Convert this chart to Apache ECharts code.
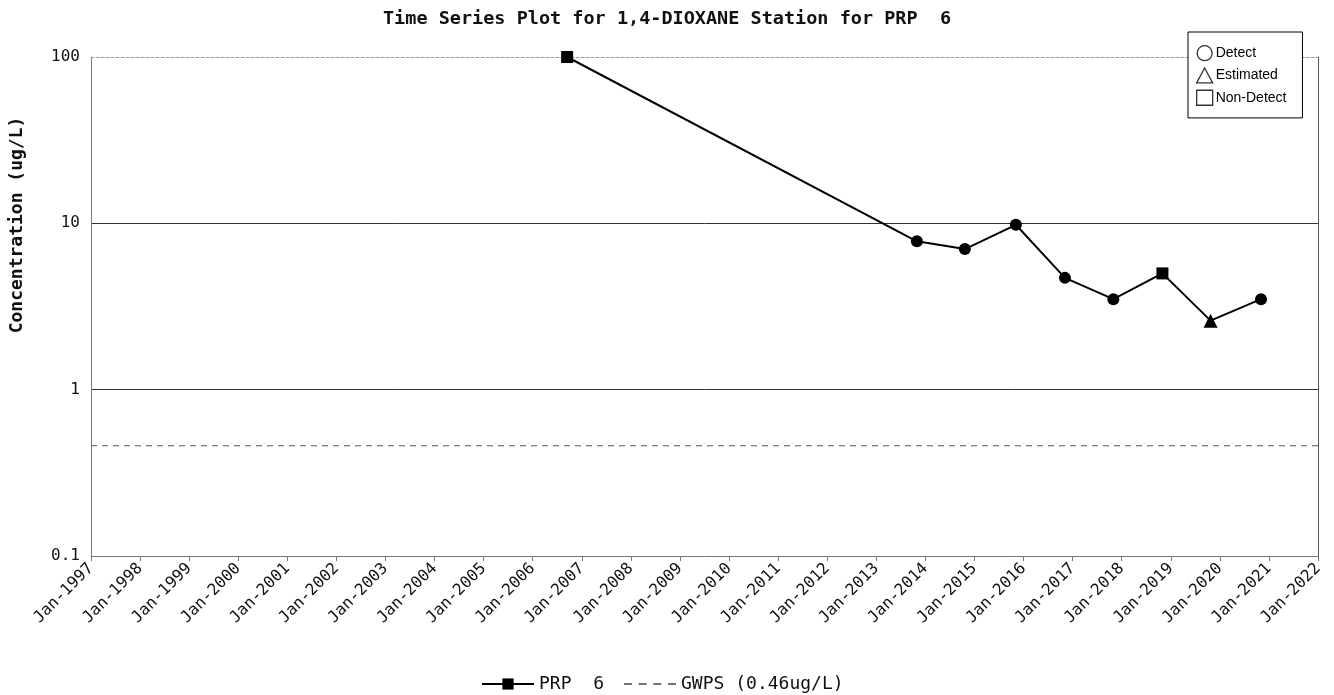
<!DOCTYPE html>
<html>
<head>
<meta charset="utf-8">
<title>Time Series Plot for 1,4-DIOXANE Station for PRP 6</title>
<script src="https://cdn.jsdelivr.net/npm/echarts@6/dist/echarts.min.js"></script>
<style>
  html, body { margin: 0; padding: 0; background: #ffffff; }
  #chart { width: 1334px; height: 695px; }
</style>
</head>
<body>
<div id="chart"></div>
<script>
// Sampling dates, concentrations (ug/L) and lab qualifiers for station PRP 6
const sampleDates = ['2006-09-14', '2013-10-30', '2014-10-22', '2015-11-05', '2016-11-05',
                     '2017-10-31', '2018-10-31', '2019-10-24', '2020-11-03'];
const concentrations = [100, 7.8, 7.0, 9.8, 4.7, 3.5, 5.0, 2.6, 3.5];
const qualifiers = ['Non-Detect', 'Detect', 'Detect', 'Detect', 'Detect',
                    'Detect', 'Non-Detect', 'Estimated', 'Detect'];

// Groundwater protection standard
const gwpsValue = 0.46;

// Axis ranges and tick labels
const yearMin = 1997;
const yearMax = 2022;
const yTickLabels = ['0.1', '1', '10', '100'];

const qualifierSymbol = { 'Detect': 'circle', 'Estimated': 'triangle', 'Non-Detect': 'rect' };

// Convert an ISO date to a fractional year for the linear time axis
function toYear(iso) {
  const d = new Date(iso + 'T00:00:00Z');
  const y = d.getUTCFullYear();
  const start = Date.UTC(y, 0, 1);
  const end = Date.UTC(y + 1, 0, 1);
  return y + (d.getTime() - start) / (end - start);
}

const mono = 'DejaVu Sans Mono';

const seriesData = sampleDates.map((d, i) => ({
  value: [toYear(sampleDates[i]), concentrations[i]],
  symbol: qualifierSymbol[qualifiers[i]],
  symbolSize: qualifiers[i] === 'Estimated' ? 14 : 12
}));

// dashed-line key icon for the standard
const dashIcon = 'path://M0,0h7v1.3h-7z M13,0h7v1.3h-7z M26,0h7v1.3h-7z M39,0h7v1.3h-7z';

const chart = echarts.init(document.getElementById('chart'), null, { renderer: 'canvas' });

chart.setOption({
  backgroundColor: '#ffffff',
  animation: false,
  title: {
    text: 'Time Series Plot for 1,4-DIOXANE Station for PRP  6',
    left: 'center',
    top: 5,
    textStyle: { fontFamily: mono, fontWeight: 'bold', fontSize: 18.5, color: '#111' }
  },
  grid: { left: 91, top: 57, width: 1227, height: 499, containLabel: false },
  xAxis: [{
    type: 'value',
    min: yearMin,
    max: yearMax,
    interval: 1,
    axisLine: { show: true, lineStyle: { color: '#777', width: 1 } },
    axisTick: { show: true, length: 5, lineStyle: { color: '#777' } },
    splitLine: { show: false },
    axisLabel: {
      rotate: 45,
      margin: 10,
      fontFamily: mono,
      fontSize: 16,
      color: '#111',
      formatter: v => 'Jan-' + v
    }
  }, {
    // top frame line
    type: 'value',
    position: 'top',
    min: yearMin,
    max: yearMax,
    axisLine: { show: true, lineStyle: { color: '#999', width: 1, type: [3, 2] } },
    axisTick: { show: false },
    axisLabel: { show: false },
    splitLine: { show: false }
  }],
  yAxis: [{
    type: 'log',
    logBase: 10,
    min: 0.1,
    max: 100,
    axisLine: { show: true, lineStyle: { color: '#777', width: 1 } },
    axisTick: { show: false },
    splitLine: {
      show: true,
      showMinLine: false,
      showMaxLine: false,
      lineStyle: { color: '#333', width: 1 }
    },
    axisLabel: {
      margin: 11,
      fontFamily: mono,
      fontSize: 16,
      color: '#111',
      formatter: v => {
        const k = Math.round(Math.log10(v)) + 1;
        return yTickLabels[k] !== undefined ? yTickLabels[k] : '';
      }
    }
  }, {
    // right frame line
    type: 'log',
    logBase: 10,
    min: 0.1,
    max: 100,
    position: 'right',
    axisLine: { show: true, lineStyle: { color: '#555', width: 1 } },
    axisTick: { show: false },
    axisLabel: { show: false },
    splitLine: { show: false }
  }],
  legend: [{
    // qualifier key
    orient: 'vertical',
    left: 1188,
    top: 32,
    padding: [13, 16, 12, 8],
    itemGap: 6,
    itemWidth: 16,
    itemHeight: 15,
    borderColor: '#000',
    borderWidth: 1,
    backgroundColor: '#fff',
    selectedMode: false,
    textStyle: { fontFamily: 'Liberation Sans', fontSize: 14, color: '#000', padding: [0, 0, 0, -2] },
    data: [
      { name: 'Detect', icon: 'circle', itemStyle: { color: '#fff', borderColor: '#000', borderWidth: 1.3 } },
      { name: 'Estimated', icon: 'triangle', itemStyle: { color: '#fff', borderColor: '#000', borderWidth: 1.3 } },
      { name: 'Non-Detect', icon: 'rect', itemStyle: { color: '#fff', borderColor: '#000', borderWidth: 1.3 } }
    ]
  }, {
    // series key
    orient: 'horizontal',
    left: 476,
    top: 670,
    itemGap: 20,
    itemWidth: 52,
    itemHeight: 14,
    selectedMode: false,
    textStyle: { fontFamily: mono, fontSize: 18, color: '#111' },
    data: [
      'PRP  6',
      { name: 'GWPS (0.46ug/L)', icon: dashIcon, itemStyle: { color: '#444' } }
    ]
  }],
  series: [{
    name: 'PRP  6',
    type: 'line',
    data: seriesData,
    symbol: 'rect',
    symbolSize: 12,
    showAllSymbol: true,
    lineStyle: { color: '#000', width: 2 },
    itemStyle: { color: '#000' },
    z: 5
  }, {
    name: 'GWPS (0.46ug/L)',
    type: 'line',
    data: [[yearMin, gwpsValue], [yearMax, gwpsValue]],
    symbol: 'none',
    lineStyle: { color: '#555', width: 1, type: [6, 5] },
    itemStyle: { color: '#555' },
    z: 3
  }, {
    name: 'Detect', type: 'scatter', data: [], symbol: 'circle', itemStyle: { color: '#fff' }
  }, {
    name: 'Estimated', type: 'scatter', data: [], symbol: 'triangle', itemStyle: { color: '#fff' }
  }, {
    name: 'Non-Detect', type: 'scatter', data: [], symbol: 'rect', itemStyle: { color: '#fff' }
  }],
  graphic: [{
    type: 'text',
    x: 17,
    y: 225,
    rotation: Math.PI / 2,
    style: {
      text: 'Concentration (ug/L)',
      fontFamily: mono,
      fontWeight: 'bold',
      fontSize: 18,
      fill: '#111',
      align: 'center',
      verticalAlign: 'middle'
    }
  }]
});
</script>
</body>
</html>
